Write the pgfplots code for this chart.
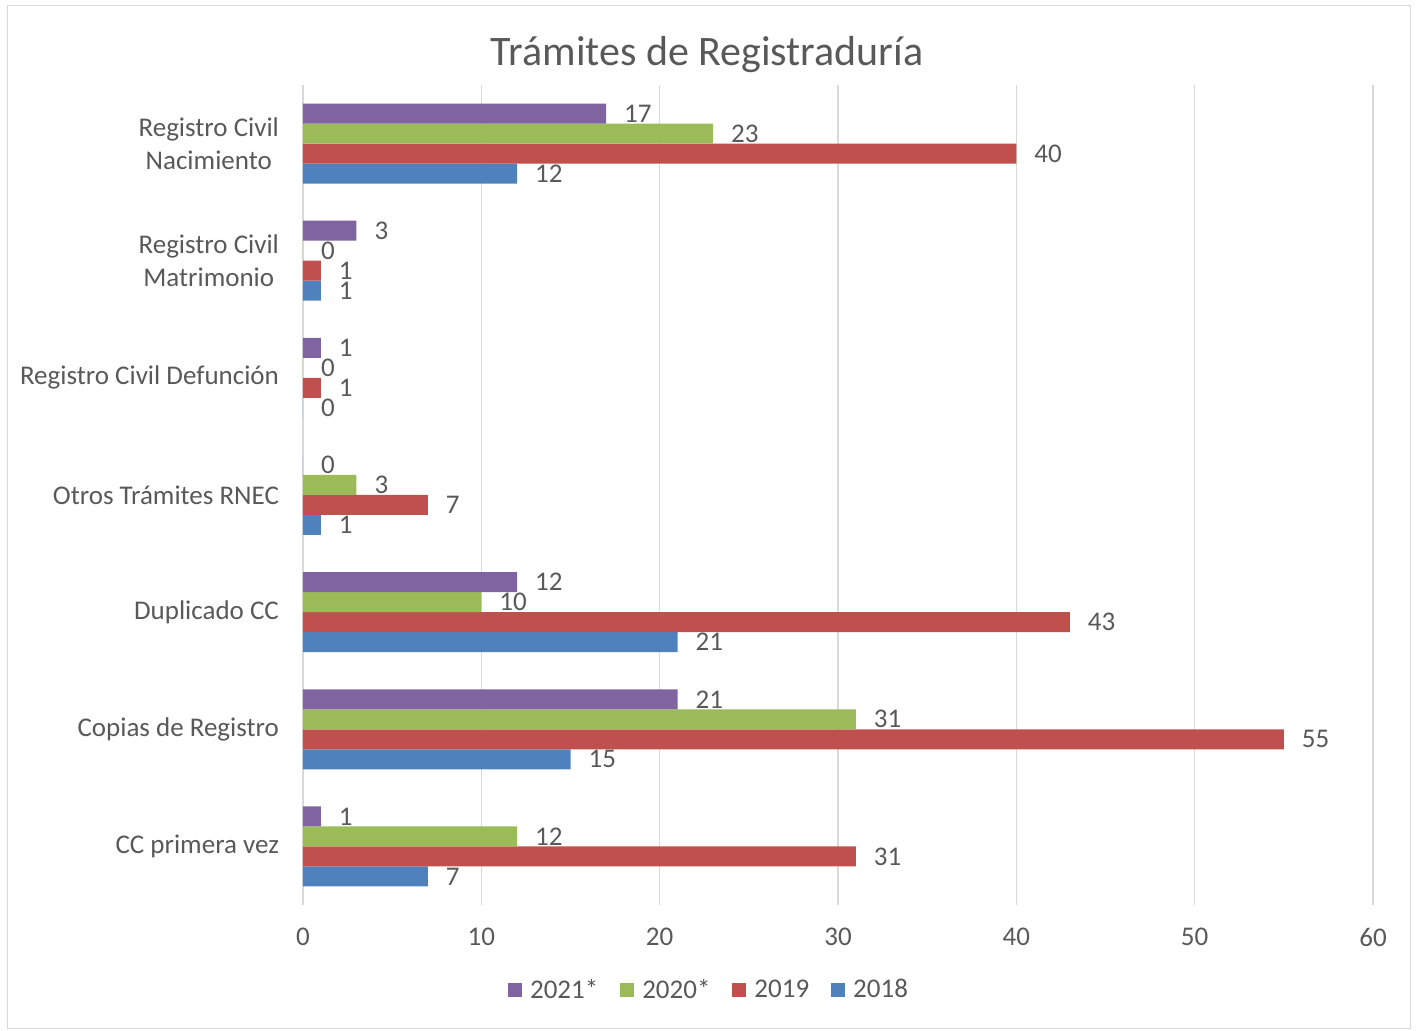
\documentclass[border=0pt]{standalone}
\usepackage{pgfplots}
\pgfplotsset{compat=1.18}
\usepackage{fontspec}
\setmainfont{Carlito}
\definecolor{c21}{HTML}{8064A2}
\definecolor{c20}{HTML}{9BBB59}
\definecolor{c19}{HTML}{C0504D}
\definecolor{c18}{HTML}{4F81BD}
\definecolor{txt}{HTML}{595959}
\definecolor{grd}{HTML}{D9D9D9}
\begin{document}
\begin{tikzpicture}
\useasboundingbox (-151.5pt,-63pt) rectangle (557pt,452.5pt);
\draw[grd] (-148pt,-61.5pt) rectangle (553.5pt,450pt);
\begin{axis}[
  at={(0pt,0pt)}, anchor=south west,
  scale only axis, width=535pt, height=410pt,
  xbar, bar width=10pt,
  xmin=0, xmax=60, ymin=-0.5, ymax=6.5,
  xtick={0,10,...,60},
  ytick={0,1,2,3,4,5,6},
  yticklabels={CC primera vez,Copias de Registro,Duplicado CC,Otros Trámites RNEC,Registro Civil Defunción,{Registro Civil\\Matrimonio},{Registro Civil\\Nacimiento}},
  yticklabel style={align=center, xshift=-8.5pt, font=\fontsize{13.5}{16.5}\selectfont, text=txt},
  xticklabel style={yshift=-8pt, font=\fontsize{13.5}{16}\selectfont, text=txt},
  /pgf/number format/assume math mode=true,
  axis line style={draw=none},
  major tick length=0pt,
  xmajorgrids, grid style={grd, line width=0.8pt},
  nodes near coords,
  every node near coord/.append style={anchor=west, font=\fontsize{13.5}{16}\selectfont, text=txt, xshift=5.5pt},
  legend columns=4,
  reverse legend,
  legend style={at={(0.3804,-0.1037)}, anchor=center, draw=none, fill=none,
    font=\fontsize{13.5}{16}\selectfont, text=txt,
    /tikz/every odd column/.append style={column sep=2pt},
    /tikz/every even column/.append style={column sep=9pt}},
  legend image code/.code={\fill[#1] (0pt,-3.5pt) rectangle (7pt,3.5pt);},
]
\addplot[fill=c18, draw=none, bar shift=-15pt] coordinates {(7,0) (15,1) (21,2) (1,3) (0,4) (1,5) (12,6)};
\addplot[fill=c19, draw=none, bar shift=-5pt] coordinates {(31,0) (55,1) (43,2) (7,3) (1,4) (1,5) (40,6)};
\addplot[fill=c20, draw=none, bar shift=5pt] coordinates {(12,0) (31,1) (10,2) (3,3) (0,4) (0,5) (23,6)};
\addplot[fill=c21, draw=none, bar shift=15pt] coordinates {(1,0) (21,1) (12,2) (0,3) (1,4) (3,5) (17,6)};
\legend{2018,2019,2020*,2021*}
\end{axis}
\node[text=txt, font=\fontsize{21}{24}\selectfont] at (202pt,425pt) {Trámites de Registraduría};
\end{tikzpicture}
\end{document}
